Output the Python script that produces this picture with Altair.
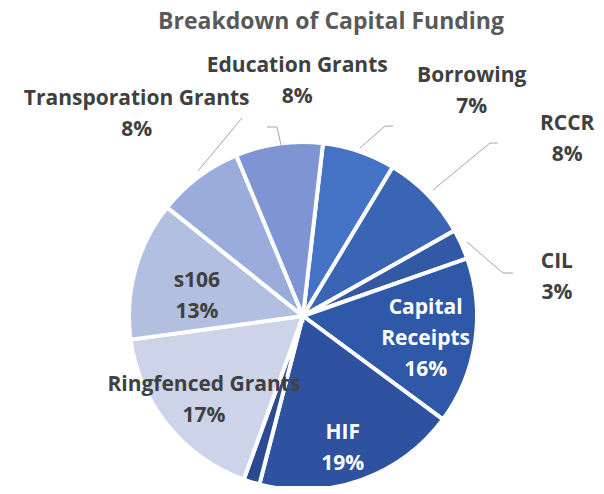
import altair as alt
import pandas as pd

# ---- data ----
categories = ["Borrowing", "RCCR", "CIL", "Capital Receipts", "HIF", "Other",
              "Ringfenced Grants", "s106", "Transporation Grants", "Education Grants"]
values = [6.8, 8.2, 2.8, 15.5, 18.9, 1.5, 17.3, 12.9, 8.0, 8.1]
pct_labels = ["7%", "8%", "3%", "16%", "19%", "", "17%", "13%", "8%", "8%"]
name_labels = ["Borrowing", "RCCR", "CIL", "Capital\nReceipts", "HIF", "",
               "Ringfenced Grants", "s106", "Transporation Grants", "Education Grants"]
colors = ["#4472C4", "#3A65B5", "#3359A5", "#2F58A8", "#2E52A0", "#2B4A92",
          "#CDD4EA", "#B3BFE1", "#9AACDB", "#7E94D3"]
title_text = "Breakdown of Capital Funding"

df = pd.DataFrame({
    "category": categories,
    "value": values,
    "order": list(range(len(categories))),
    "label": [n + "\n" + p if p else "" for n, p in zip(name_labels, pct_labels)],
    "color": colors,
})

# ---- layout (pixels) ----
W, H = 588, 478
CX, CY = 295, 308
R = 174
START = 0.1152  # rotation of first slice (radians)
FONT = "Open Sans"
DARK = "#404040"
LH = 31

theta_scale = alt.Scale(domain=[0, 100], range=[START, START + 6.283185307])

base = alt.Chart(df).transform_window(
    end="sum(value)", sort=[alt.SortField("order")], frame=[None, 0]
).transform_calculate(
    start="datum.end - datum.value",
    mid="datum.end - datum.value / 2",
)

pie = base.mark_arc(outerRadius=R, stroke="white", strokeWidth=4).encode(
    theta=alt.Theta("start:Q", scale=theta_scale),
    theta2="end:Q",
    color=alt.Color("color:N", scale=None),
    x=alt.value(CX), y=alt.value(CY),
)

# label placement: category -> (radius, dx, dy, colour, number of lines)
label_layout = {
    "Transporation Grants": (260, -10, 6, DARK, 2),
    "Education Grants": (236, 27, -1, DARK, 2),
    "Borrowing": (281, 78, 41, DARK, 2),
    "RCCR": (300, 49, 32, DARK, 2),
    "CIL": (260, 17, 69, DARK, 2),
    "Capital Receipts": (124, 0, 4, "white", 3),
    "HIF": (140, -7, 1, "white", 2),
    "Ringfenced Grants": (130, 2, 3, DARK, 2),
    "s106": (108, -2, 9, DARK, 2),
}

layers = [pie]
for cat, (rad, dx, dy, col, n) in label_layout.items():
    layers.append(
        base.transform_filter(alt.datum.category == cat).mark_text(
            radius=rad, dx=dx, dy=dy - (n - 1) * LH / 2, font=FONT, fontSize=21,
            fontWeight="bold", color=col, lineBreak="\n", lineHeight=LH,
            align="center", baseline="middle",
        ).encode(
            theta=alt.Theta("mid:Q", scale=theta_scale),
            text="label:N",
            x=alt.value(CX), y=alt.value(CY),
        )
    )

# leader lines (annotation geometry, pixels)
leaders = pd.DataFrame({
    "g": ["t", "t", "e", "e", "e", "b", "b", "b", "r", "r", "r", "c", "c", "c"],
    "o": [0, 1, 0, 1, 2, 0, 1, 2, 0, 1, 2, 0, 1, 2],
    "x": [234, 190, 259, 269, 273, 385, 377, 352, 490, 482, 425, 505, 495, 459],
    "y": [110, 163, 119, 119, 137, 118, 118, 140, 135, 135, 182, 265, 265, 234],
})
lead = alt.Chart(leaders).mark_line(color="#A6A6A6", strokeWidth=1).encode(
    x=alt.X("x:Q", scale=None, axis=None),
    y=alt.Y("y:Q", scale=None, axis=None),
    detail="g:N",
    order="o:Q",
)
layers.append(lead)

title = alt.Chart(pd.DataFrame({"t": [title_text]})).mark_text(
    font=FONT, fontSize=23, fontWeight="bold", color="#595959",
    align="center", baseline="middle",
).encode(text="t:N", x=alt.value(323), y=alt.value(14))
layers.append(title)

chart = alt.layer(*layers).properties(
    width=W, height=H, padding=0, autosize="none", background="white"
).configure_view(stroke=None)

chart.save("out.html", embed_options={"renderer": "svg", "actions": False})
